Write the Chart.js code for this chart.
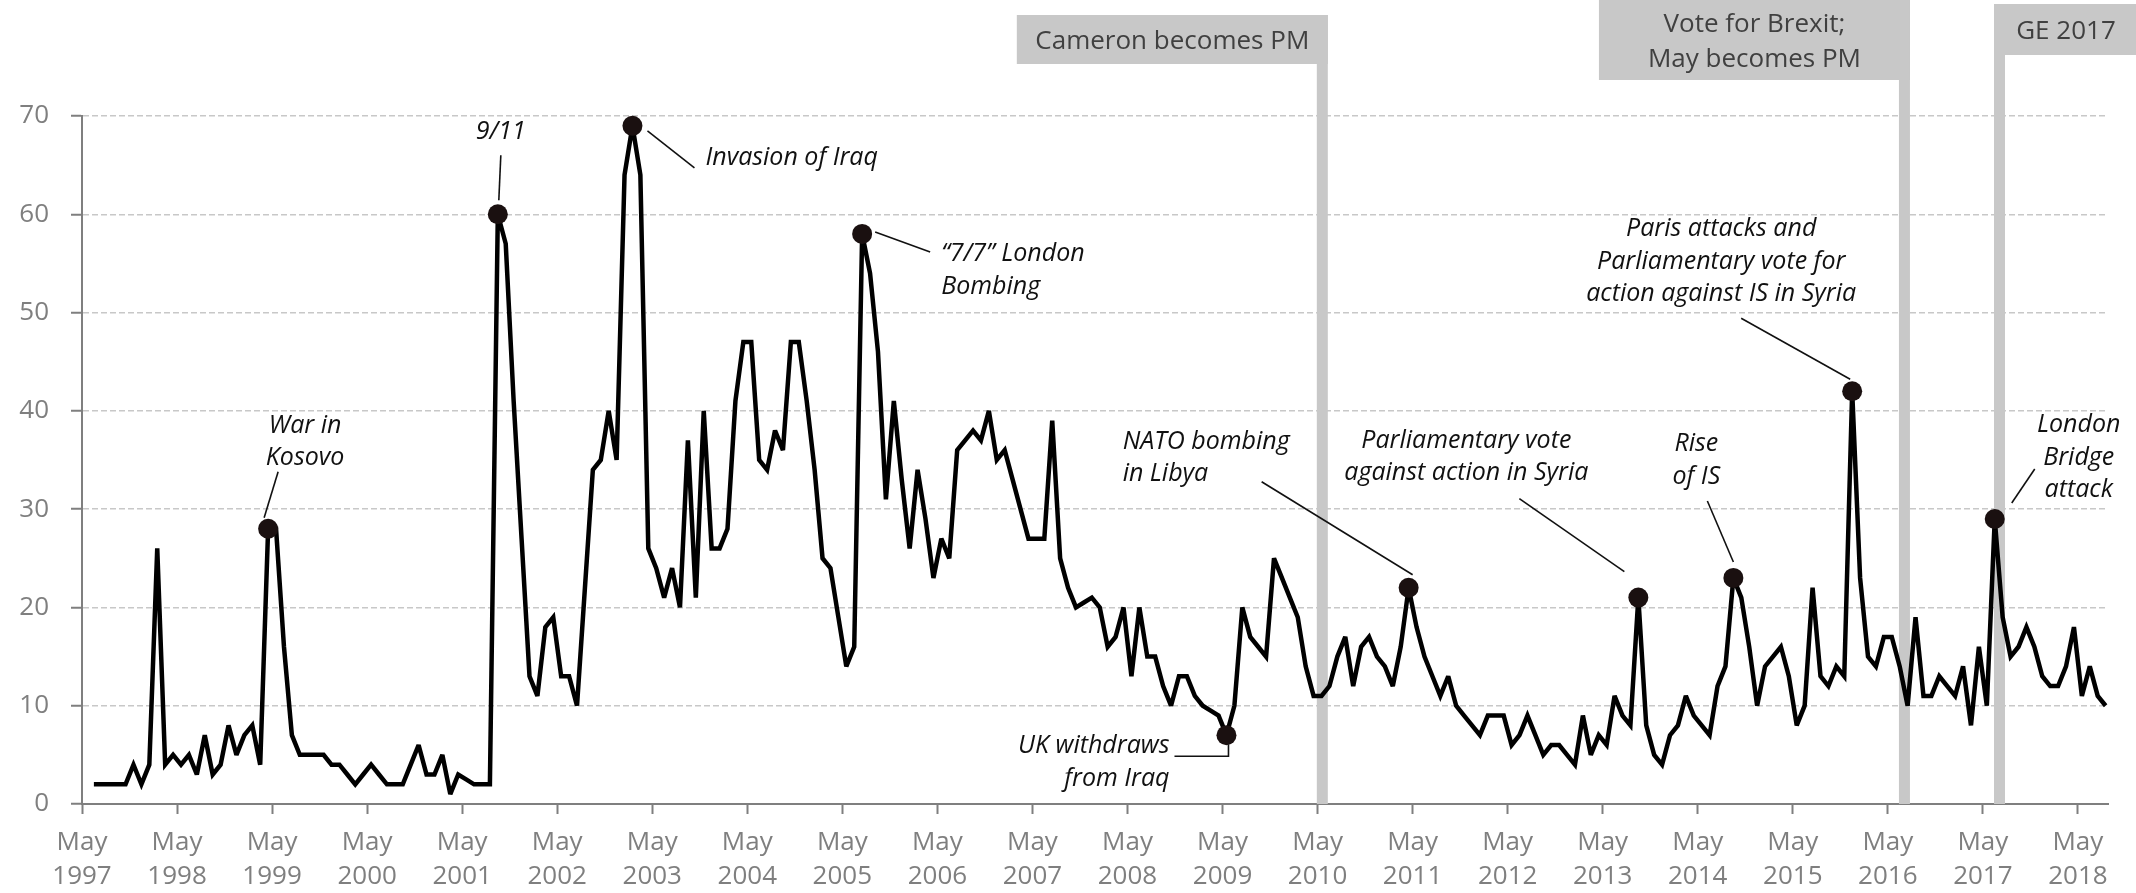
<!DOCTYPE html>
<html>
<head>
<meta charset="utf-8">
<script src="https://cdn.jsdelivr.net/npm/chart.js@4.4.1/dist/chart.umd.min.js"></script>
<style>
  html, body { margin: 0; padding: 0; background: #fff; }
  #wrap { width: 2136px; height: 893px; }
</style>
</head>
<body>
<div id="wrap"><canvas id="salience" width="2136" height="893"></canvas></div>
<script>
// monthly series, Jun 1997 .. Aug 2018
var values = [
  2, 2, 2, 2, 2, 4, 2,                                  // 1997 (Jun-Dec)
  4, 26, 4, 5, 4, 5, 3, 7, 3, 4, 8, 5,                  // 1998
  7, 8, 4, 28, 28, 16, 7, 5, 5, 5, 5, 4,                // 1999
  4, 3, 2, 3, 4, 3, 2, 2, 2, 4, 6, 3,                   // 2000
  3, 5, 1, 3, 2.5, 2, 2, 2, 60, 57, 41, 27,             // 2001
  13, 11, 18, 19, 13, 13, 10, 22, 34, 35, 40, 35,       // 2002
  64, 69, 64, 26, 24, 21, 24, 20, 37, 21, 40, 26,       // 2003
  26, 28, 41, 47, 47, 35, 34, 38, 36, 47, 47, 41,       // 2004
  34, 25, 24, 19, 14, 16, 58, 54, 46, 31, 41, 33,       // 2005
  26, 34, 29, 23, 27, 25, 36, 37, 38, 37, 40, 35,       // 2006
  36, 33, 30, 27, 27, 27, 39, 25, 22, 20, 20.5, 21,     // 2007
  20, 16, 17, 20, 13, 20, 15, 15, 12, 10, 13, 13,       // 2008
  11, 10, 9.5, 9, 7, 10, 20, 17, 16, 15, 25, 23,        // 2009
  21, 19, 14, 11, 11, 12, 15, 17, 12, 16, 17, 15,       // 2010
  14, 12, 16, 22, 18, 15, 13, 11, 13, 10, 9, 8,         // 2011
  7, 9, 9, 9, 6, 7, 9, 7, 5, 6, 6, 5,                   // 2012
  4, 9, 5, 7, 6, 11, 9, 8, 21, 8, 5, 4,                 // 2013
  7, 8, 11, 9, 8, 7, 12, 14, 23, 21, 16, 10,            // 2014
  14, 15, 16, 13, 8, 10, 22, 13, 12, 14, 13, 42,        // 2015
  23, 15, 14, 17, 17, 14, 10, 19, 11, 11, 13, 12,       // 2016
  11, 14, 8, 16, 10, 29, 19, 15, 16, 18, 16, 13,        // 2017
  12, 12, 14, 18, 11, 14, 11, 10                        // 2018 (Jan-Aug)
];
var startYear = 1997;
var startMonth = 6; // June
var monthNames = ['Jan', 'Feb', 'Mar', 'Apr', 'May', 'Jun', 'Jul', 'Aug', 'Sep', 'Oct', 'Nov', 'Dec'];

var tickYears = [1997, 1998, 1999, 2000, 2001, 2002, 2003, 2004, 2005, 2006, 2007,
  2008, 2009, 2010, 2011, 2012, 2013, 2014, 2015, 2016, 2017, 2018];
var yTicks = [0, 10, 20, 30, 40, 50, 60, 70];

// highlighted events
var eventMonths = ['Apr 1999', 'Sep 2001', 'Feb 2003', 'Jul 2005', 'May 2009',
  'Apr 2011', 'Sep 2013', 'Sep 2014', 'Dec 2015', 'Jun 2017'];
var eventTexts = [
  ['War in', 'Kosovo'],
  ['9/11'],
  ['Invasion of Iraq'],
  ['\u201C7/7\u201D London', 'Bombing'],
  ['UK withdraws', 'from Iraq'],
  ['NATO bombing', 'in Libya'],
  ['Parliamentary vote', 'against action in Syria'],
  ['Rise', 'of IS'],
  ['Paris attacks and', 'Parliamentary vote for', 'action against IS in Syria'],
  ['London', 'Bridge', 'attack']
];

// political events (months after 1 May 1997)
var bandMonths = [156.6, 230.1, 242.1];
var bandTexts = [['Cameron becomes PM'], ['Vote for Brexit;', 'May becomes PM'], ['GE 2017']];

var monthLabels = values.map(function (v, i) {
  var m = startMonth - 1 + i;
  return monthNames[m % 12] + ' ' + (startYear + Math.floor(m / 12));
});
var eventIndex = eventMonths.map(function (m) { return monthLabels.indexOf(m); });

// x = months since start of May 1997, each point mid-month
var points = values.map(function (v, i) {
  return { x: (startMonth - 5) + i + 0.5, y: v };
});

var FONT = "'Open Sans', 'Noto Sans', sans-serif";

// text placement relative to the marker (px)
var calloutLayout = [
  { align: 'center', dx: 37, dy: -103, lead: [10, -57, -4, -11] },
  { align: 'center', dx: 3, dy: -82, lead: [3, -59, 1, -14] },
  { align: 'left', dx: 73, dy: 32, lead: [15, 5, 62, 42] },
  { align: 'left', dx: 79, dy: 20, lead: [13, -2, 68, 18] },
  { align: 'right', dx: -57, dy: 11, elbow: [-52, 21, 2, 9] },
  { align: 'left', dx: -286, dy: -146, lead: [-147, -106, 4, -13] },
  { align: 'center', dx: -172, dy: -157, lead: [-119, -99, -14, -26] },
  { align: 'center', dx: -37, dy: -134, lead: [-26, -77, 0, -16] },
  { align: 'center', dx: -131, dy: -162, lead: [-111, -73, -2, -12] },
  { align: 'center', dx: 84, dy: -94, lead: [40, -50, 17, -16] }
];
var bandLayout = [
  { anchor: 'right', width: 311, top: 15, bottom: 64 },
  { anchor: 'right', width: 311, top: 0, bottom: 80 },
  { anchor: 'left', width: 144, top: 4, bottom: 55 }
];

var bandsPlugin = {
  id: 'bands',
  beforeDatasetsDraw: function (chart) {
    var ctx = chart.ctx, xs = chart.scales.x, area = chart.chartArea;
    ctx.save();
    ctx.fillStyle = '#c8c8c8';
    bandMonths.forEach(function (m, i) {
      var px = xs.getPixelForValue(m);
      ctx.fillRect(px - 5.5, bandLayout[i].top, 11, area.bottom - bandLayout[i].top);
    });
    ctx.restore();
    ctx.miterLimit = 3; // keep sharp peaks from poking out too far
  },
  afterDraw: function (chart) {
    var ctx = chart.ctx, xs = chart.scales.x;
    ctx.save();
    ctx.font = '26px ' + FONT;
    ctx.textAlign = 'center';
    ctx.textBaseline = 'middle';
    bandMonths.forEach(function (m, i) {
      var L = bandLayout[i];
      var px = xs.getPixelForValue(m);
      var left = L.anchor === 'right' ? px + 5.5 - L.width : px - 5.5;
      ctx.fillStyle = '#c8c8c8';
      ctx.fillRect(left, L.top, L.width, L.bottom - L.top);
      ctx.fillStyle = '#404040';
      var lines = bandTexts[i];
      var cy = (L.top + L.bottom) / 2 + 2 - (lines.length - 1) * 35.5 / 2;
      lines.forEach(function (t, k) {
        ctx.fillText(t, left + L.width / 2, cy + k * 35.5);
      });
    });
    ctx.restore();
  }
};

var calloutPlugin = {
  id: 'callouts',
  afterDatasetsDraw: function (chart) {
    var ctx = chart.ctx;
    var meta = chart.getDatasetMeta(0);
    ctx.save();
    ctx.font = 'italic 25px ' + FONT;
    ctx.textBaseline = 'middle';
    ctx.fillStyle = '#111';
    ctx.strokeStyle = '#111';
    ctx.lineWidth = 1.6;
    eventIndex.forEach(function (idx, i) {
      var el = meta.data[idx];
      var L = calloutLayout[i];
      var x = el.x, y = el.y;
      ctx.beginPath();
      if (L.lead) {
        ctx.moveTo(x + L.lead[0], y + L.lead[1]);
        ctx.lineTo(x + L.lead[2], y + L.lead[3]);
      } else {
        ctx.moveTo(x + L.elbow[0], y + L.elbow[1]);
        ctx.lineTo(x + L.elbow[2], y + L.elbow[1]);
        ctx.lineTo(x + L.elbow[2], y + L.elbow[3]);
      }
      ctx.stroke();
      ctx.textAlign = L.align;
      eventTexts[i].forEach(function (t, k) {
        ctx.fillText(t, x + L.dx, y + L.dy + k * 32.5);
      });
    });
    ctx.restore();
  }
};

new Chart(document.getElementById('salience'), {
  type: 'line',
  data: {
    datasets: [{
      data: points,
      borderColor: '#000',
      borderWidth: 4.5,
      borderJoinStyle: 'miter',
      tension: 0,
      fill: false,
      pointRadius: function (c) { return eventIndex.indexOf(c.dataIndex) >= 0 ? 10 : 0; },
      pointBackgroundColor: '#1a1010',
      pointBorderWidth: 0,
      clip: false
    }]
  },
  options: {
    responsive: false,
    animation: false,
    devicePixelRatio: 1,
    events: [],
    layout: { padding: { left: 0, right: 28, top: 116, bottom: 0 } },
    plugins: { legend: { display: false }, tooltip: { enabled: false } },
    scales: {
      x: {
        type: 'linear',
        min: 0,
        max: 255.8,
        afterFit: function (s) { s.height = 89; },
        afterBuildTicks: function (s) {
          s.ticks = tickYears.map(function (y, i) { return { value: i * 12 }; });
        },
        ticks: {
          autoSkip: false,
          maxRotation: 0,
          padding: 12,
          color: '#7f7f7f',
          font: { family: FONT, size: 26, lineHeight: 1.31 },
          callback: function (v) { return ['May', String(tickYears[Math.round(v / 12)])]; }
        },
        grid: { drawOnChartArea: false, drawTicks: true, tickLength: 10, tickColor: '#7f7f7f', tickWidth: 2 },
        border: { display: true, color: '#7f7f7f', width: 2 }
      },
      y: {
        min: 0,
        max: 70,
        afterFit: function (s) { s.width = 82; },
        afterBuildTicks: function (s) {
          s.ticks = yTicks.map(function (v) { return { value: v }; });
        },
        ticks: {
          padding: 22,
          color: '#7f7f7f',
          font: { family: FONT, size: 26 }
        },
        grid: {
          color: function (c) { return c.tick && c.tick.value === 0 ? 'rgba(0,0,0,0)' : '#c8c8c8'; },
          lineWidth: 1.5,
          tickLength: 11,
          tickColor: '#7f7f7f',
          tickWidth: 2,
          tickBorderDash: []
        },
        border: { display: true, color: '#7f7f7f', width: 2, dash: [6, 3] }
      }
    }
  },
  plugins: [bandsPlugin, calloutPlugin]
});
</script>
</body>
</html>
